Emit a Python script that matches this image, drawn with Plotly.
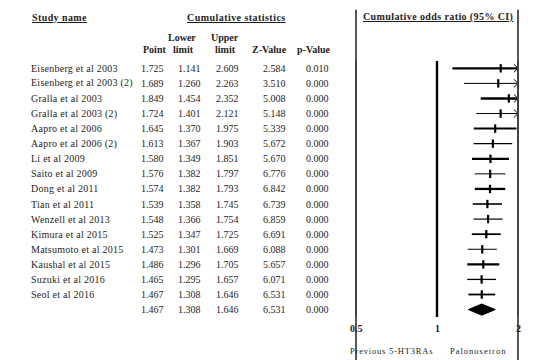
import math
import plotly.graph_objects as go

# ---- data ----------------------------------------------------------------
studies = [
    "Eisenberg et al 2003", "Eisenberg et al 2003 (2)", "Gralla et al 2003",
    "Gralla et al 2003 (2)", "Aapro et al 2006", "Aapro et al 2006 (2)",
    "Li et al 2009", "Saito et al 2009", "Dong et al 2011", "Tian et al 2011",
    "Wenzell et al 2013", "Kimura et al 2015", "Matsumoto et al 2015",
    "Kaushal et al 2015", "Suzuki et al 2016", "Seol et al 2016",
]
point = [1.725, 1.689, 1.849, 1.724, 1.645, 1.613, 1.580, 1.576, 1.574, 1.539,
         1.548, 1.525, 1.473, 1.486, 1.465, 1.467]
lower = [1.141, 1.260, 1.454, 1.401, 1.370, 1.367, 1.349, 1.382, 1.382, 1.358,
         1.366, 1.347, 1.301, 1.296, 1.295, 1.308]
upper = [2.609, 2.263, 2.352, 2.121, 1.975, 1.903, 1.851, 1.797, 1.793, 1.745,
         1.754, 1.725, 1.669, 1.705, 1.657, 1.646]
zval = [2.584, 3.510, 5.008, 5.148, 5.339, 5.672, 5.670, 6.776, 6.842, 6.739,
        6.859, 6.691, 6.088, 5.657, 6.071, 6.531]
pval = [0.010, 0.000, 0.000, 0.000, 0.000, 0.000, 0.000, 0.000, 0.000, 0.000,
        0.000, 0.000, 0.000, 0.000, 0.000, 0.000]
# relative study weight, shown as CI line thickness
weight = [2.2, 1.0, 2.6, 1.0, 2.0, 1.3, 2.3, 1.0, 2.3, 1.6,
          1.2, 1.8, 1.0, 2.3, 1.3, 1.8]

summary = {"point": 1.467, "lower": 1.308, "upper": 1.646,
           "z": 6.531, "p": 0.000}

axis_ticks = [0.5, 1, 2]
axis_ticktext = ["0.5", "1", "2"]
x_min, x_max = 0.5, 2.0

# ---- layout helpers --------------------------------------------------------
W, H = 552, 360
ROW0_PX, ROW_STEP = 68.3, 15.08          # pixel centre of first row, row pitch
LINE_TOP_PX, LINE_BOT_PX = 61, 317        # vertical extent of the plot lines
SERIF = "Liberation Serif"
INK = "#1e1e1e"


def px_to_row(py):
    return (py - ROW0_PX) / ROW_STEP


def paper_x(px):
    return px / W


def paper_y(py):
    return 1 - py / H


# log axis spanning the whole page so 0.5 -> 356px, 1 -> 437px, 2 -> 518px
px_per_decade = (518 - 356) / math.log10(4)
xr = [math.log10(1) - 437 / px_per_decade,
      math.log10(1) + (W - 437) / px_per_decade]

fig = go.Figure()

n = len(studies)
summary_row = n

# outer reference lines (0.5 and 2) as gridlines of a second, shorter subplot
side_ticks = [v for v in axis_ticks if v != 1]
fig.add_trace(go.Scatter(
    x=[x_min, x_max], y=[0.5, 0.5], mode="markers",
    marker=dict(size=1, color="rgba(0,0,0,0)"),
    xaxis="x2", yaxis="y2", hoverinfo="skip", showlegend=False))

# the same lines as tall vertical tick markers, centred on the plot block
line_mid = px_to_row((LINE_TOP_PX + LINE_BOT_PX) / 2)
fig.add_trace(go.Scatter(
    x=side_ticks, y=[line_mid] * len(side_ticks), mode="markers",
    marker=dict(symbol="line-ns", size=LINE_BOT_PX - LINE_TOP_PX,
                line=dict(color="#444444", width=1.8)),
    hoverinfo="skip", showlegend=False))

# null line at 1
fig.add_trace(go.Scatter(
    x=[1, 1], y=[px_to_row(LINE_TOP_PX), px_to_row(LINE_BOT_PX)],
    mode="lines", line=dict(color="#000000", width=2.4),
    hoverinfo="skip", showlegend=False))

# per-study cumulative CIs
ARROW_K = 1.036
for i in range(n):
    hi = min(upper[i], x_max)
    fig.add_trace(go.Scatter(
        x=[lower[i], hi], y=[i, i], mode="lines",
        line=dict(color="#000", width=weight[i]),
        hoverinfo="skip", showlegend=False))
    if upper[i] > x_max:
        fig.add_trace(go.Scatter(
            x=[x_max / ARROW_K, x_max, x_max / ARROW_K],
            y=[i - 0.27, i, i + 0.27], mode="lines",
            line=dict(color="#000", width=1),
            hoverinfo="skip", showlegend=False))

fig.add_trace(go.Scatter(
    x=point, y=list(range(n)), mode="markers",
    marker=dict(symbol="line-ns", size=6,
                line=dict(color="#000", width=2.2)),
    hoverinfo="skip", showlegend=False))

# pooled diamond
dh = 0.37
fig.add_trace(go.Scatter(
    x=[summary["lower"], summary["point"], summary["upper"],
       summary["point"], summary["lower"]],
    y=[summary_row, summary_row - dh, summary_row,
       summary_row + dh, summary_row],
    mode="lines", fill="toself", fillcolor="#000",
    line=dict(color="#000", width=1),
    hoverinfo="skip", showlegend=False))

# ---- text table ------------------------------------------------------------
ann = []


def txt(text, px, row=None, py=None, anchor="left", size=10, bold=False,
        underline=False, spacing=None):
    t = f"<b>{text}</b>" if bold else text
    if spacing is not None:
        t = f'<span style="letter-spacing:{spacing}px">{t}</span>'
    font = dict(family=SERIF, size=size, color=INK)
    if underline:
        font["lineposition"] = "under"
    d = dict(text=t, x=paper_x(px), xref="paper", xanchor=anchor,
             showarrow=False, font=font, yanchor="middle")
    if row is not None:
        d.update(y=row, yref="y")
    else:
        d.update(y=paper_y(py), yref="paper")
    ann.append(d)


# headers
txt("Study name", 30, py=17, bold=True, underline=True, spacing=0.4)
txt("Cumulative statistics", 236.5, py=17, anchor="center", bold=True,
    underline=True, spacing=0.45)
txt("Cumulative odds ratio (95% CI)", 437.5, py=17, anchor="center",
    bold=True, underline=True, spacing=0.4)

COL_R = {"point": 165.5, "lower": 203, "upper": 241, "z": 287.5, "p": 330.5}
txt("Point", 167.5, py=50, anchor="right", bold=True)
txt("Lower", 197.5, py=37.5, anchor="right", bold=True)
txt("limit", 196, py=50, anchor="right", bold=True)
txt("Upper", 240.5, py=37.5, anchor="right", bold=True)
txt("limit", 238, py=50, anchor="right", bold=True)
txt("Z-Value", 289, py=50, anchor="right", bold=True)
txt("p-Value", 333, py=50, anchor="right", bold=True)

for i in range(n):
    txt(studies[i], 29, row=i, spacing=0.25)
    txt(f"{point[i]:.3f}", COL_R["point"], row=i, anchor="right")
    txt(f"{lower[i]:.3f}", COL_R["lower"], row=i, anchor="right")
    txt(f"{upper[i]:.3f}", COL_R["upper"], row=i, anchor="right")
    txt(f"{zval[i]:.3f}", COL_R["z"], row=i, anchor="right")
    txt(f"{pval[i]:.3f}", COL_R["p"], row=i, anchor="right")

txt(f"{summary['point']:.3f}", COL_R["point"], row=summary_row, anchor="right")
txt(f"{summary['lower']:.3f}", COL_R["lower"], row=summary_row, anchor="right")
txt(f"{summary['upper']:.3f}", COL_R["upper"], row=summary_row, anchor="right")
txt(f"{summary['z']:.3f}", COL_R["z"], row=summary_row, anchor="right")
txt(f"{summary['p']:.3f}", COL_R["p"], row=summary_row, anchor="right")

# axis tick labels under the forest plot
for v, lab in zip(axis_ticks, axis_ticktext):
    ann.append(dict(text=f"<b>{lab}</b>", x=math.log10(v), xref="x",
                    y=paper_y(328), yref="paper", xanchor="center",
                    yanchor="middle", showarrow=False,
                    font=dict(family=SERIF, size=10, color=INK)))

txt("Previous 5-HT3RAs", 435, py=351, anchor="right", size=8.5, spacing=0.8)
txt("Palonosetron", 448, py=351, anchor="left", size=8.5, spacing=1.0)

# ---- axes ------------------------------------------------------------------
fig.update_layout(
    width=W, height=H,
    margin=dict(l=0, r=0, t=0, b=0),
    paper_bgcolor="white", plot_bgcolor="rgba(0,0,0,0)",
    xaxis=dict(type="log", range=xr, domain=[0, 1], visible=False,
               fixedrange=True),
    yaxis=dict(range=[px_to_row(H), px_to_row(0)], domain=[0, 1],
               visible=False, fixedrange=True),
    xaxis2=dict(type="log", range=xr, domain=[0, 1], anchor="y2",
                tickvals=side_ticks, showticklabels=False, ticks="",
                showgrid=True, gridcolor="#444444", gridwidth=1.8,
                showline=False, zeroline=False, fixedrange=True),
    yaxis2=dict(range=[0, 1], domain=[paper_y(LINE_BOT_PX),
                                      paper_y(LINE_TOP_PX)],
                anchor="x2", visible=False, fixedrange=True),
    annotations=ann,
    showlegend=False,
)

fig.write_html("out.html")
